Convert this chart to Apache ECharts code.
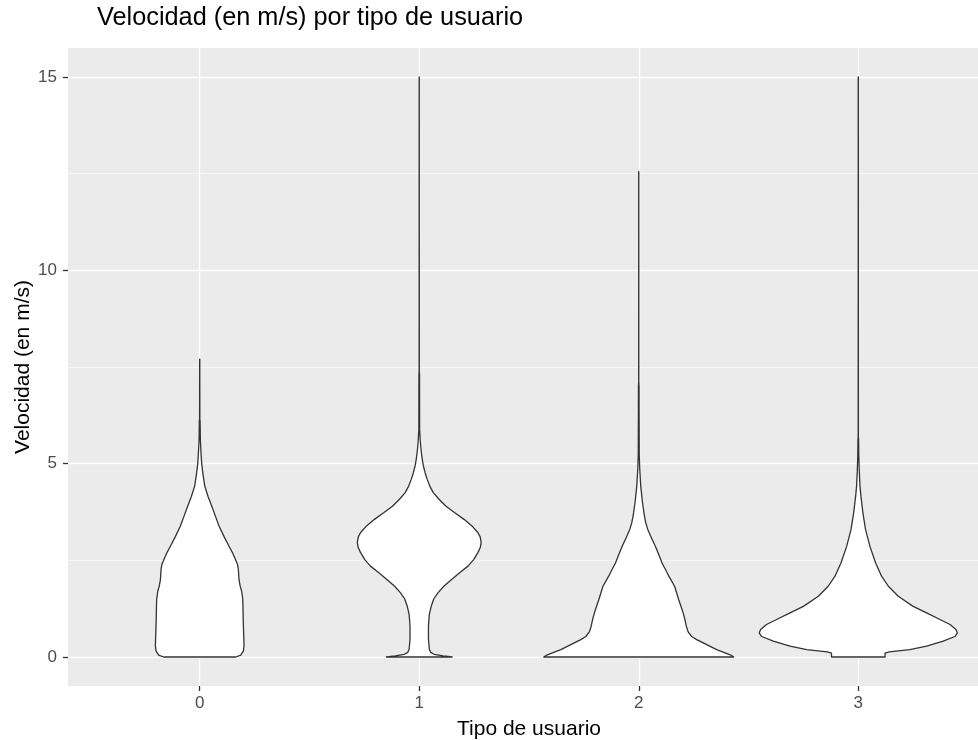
<!DOCTYPE html>
<html>
<head>
<meta charset="utf-8">
<script src="https://cdn.jsdelivr.net/npm/echarts@6/dist/echarts.min.js"></script>
<style>
  html, body { margin: 0; padding: 0; background: #fff; }
  #chart { width: 978px; height: 740px; }
</style>
</head>
<body>
<div id="chart"></div>
<script>
// Categories (tipo de usuario)
const categories = ['0', '1', '2', '3'];
const xTicks = [0, 1, 2, 3];
const yTicks = [0, 5, 10, 15];
const yMinorTicks = [2.5, 7.5, 12.5];

// Violin outlines: speed values (m/s) and half-widths (in category units)
const speed0 = [0, 0.05, 0.16, 0.3, 0.6, 1.0, 1.32, 1.5, 1.7, 1.84, 2.0, 2.27, 2.4, 2.55, 2.7, 2.87, 3.1, 3.39, 3.65, 3.9, 4.15, 4.42, 4.76, 5.0, 5.27, 5.6, 6.1, 6.15, 7.7];
const width0 = [0.164, 0.187, 0.199, 0.202, 0.200, 0.198, 0.197, 0.196, 0.191, 0.184, 0.179, 0.176, 0.172, 0.161, 0.149, 0.133, 0.112, 0.088, 0.071, 0.055, 0.038, 0.023, 0.014, 0.009, 0.006, 0.003, 0.0018, 0.0006, 0.0003];

const speed1 = [0, 0.03, 0.07, 0.12, 0.2, 0.46, 0.8, 1.1, 1.32, 1.5, 1.66, 1.83, 2.0, 2.18, 2.35, 2.52, 2.7, 2.83, 2.96, 3.1, 3.22, 3.39, 3.56, 3.73, 3.9, 4.08, 4.25, 4.42, 4.6, 4.76, 4.94, 5.1, 5.27, 5.43, 5.6, 5.77, 5.86, 6.7, 7.3, 7.4, 15];
const width1 = [0.150, 0.109, 0.068, 0.052, 0.046, 0.042, 0.042, 0.046, 0.055, 0.066, 0.085, 0.112, 0.146, 0.184, 0.222, 0.248, 0.267, 0.278, 0.282, 0.278, 0.267, 0.240, 0.204, 0.162, 0.122, 0.090, 0.064, 0.048, 0.036, 0.027, 0.019, 0.014, 0.010, 0.007, 0.0046, 0.003, 0.0018, 0.0016, 0.0014, 0.0004, 0.0002];

const speed2 = [0, 0.05, 0.1, 0.19, 0.28, 0.36, 0.45, 0.53, 0.65, 0.79, 1.0, 1.14, 1.3, 1.48, 1.65, 1.83, 2.09, 2.25, 2.43, 2.65, 2.86, 3.08, 3.3, 3.47, 3.64, 3.99, 4.42, 4.85, 5.2, 6.3, 7.0, 7.1, 12.55];
const width2 = [0.433, 0.419, 0.396, 0.355, 0.323, 0.296, 0.264, 0.241, 0.225, 0.217, 0.209, 0.202, 0.193, 0.182, 0.173, 0.163, 0.137, 0.123, 0.106, 0.091, 0.076, 0.058, 0.041, 0.032, 0.026, 0.017, 0.009, 0.0046, 0.0023, 0.0016, 0.0014, 0.0003, 0.0002];

const speed3 = [0, 0.1, 0.13, 0.19, 0.28, 0.41, 0.53, 0.62, 0.71, 0.84, 0.97, 1.14, 1.31, 1.57, 1.83, 2.09, 2.43, 2.86, 3.3, 3.73, 4.16, 4.42, 4.8, 5.2, 5.6, 5.7, 15];
const width3 = [0.122, 0.122, 0.141, 0.235, 0.311, 0.387, 0.440, 0.451, 0.445, 0.418, 0.372, 0.311, 0.250, 0.182, 0.137, 0.106, 0.079, 0.053, 0.033, 0.021, 0.012, 0.0077, 0.0046, 0.0023, 0.0016, 0.0004, 0.0002];

const violinSpeeds = [speed0, speed1, speed2, speed3];
const violinWidths = [width0, width1, width2, width3];

const FONT = '"Liberation Sans", Arial, sans-serif';
const TICK_STYLE = { color: '#333333', width: 1.3 };

const chart = echarts.init(document.getElementById('chart'), null, { renderer: 'canvas' });

const option = {
  animation: false,
  backgroundColor: '#ffffff',
  title: {
    text: 'Velocidad (en m/s) por tipo de usuario',
    left: 97,
    top: 6,
    padding: 0,
    textStyle: { fontFamily: FONT, fontSize: 25.3, fontWeight: 'normal', color: '#000000' }
  },
  grid: {
    left: 68,
    top: 48,
    width: 922,
    height: 638,
    show: true,
    backgroundColor: '#EBEBEB',
    borderWidth: 0,
    outerBoundsMode: 'none'
  },
  xAxis: [
    {
      type: 'value',
      position: 'bottom',
      min: -0.6,
      max: 3.6,
      name: 'Tipo de usuario',
      nameLocation: 'middle',
      nameGap: 33,
      nameMoveOverlap: false,
      nameTextStyle: { fontFamily: FONT, fontSize: 21, color: '#000000' },
      axisLine: { show: false, onZero: false },
      axisTick: { show: false, customValues: xTicks },
      axisLabel: {
        customValues: xTicks,
        margin: 9,
        fontFamily: FONT, fontSize: 17, color: '#4D4D4D',
        formatter: function (v) { return categories[Math.round(v)]; }
      },
      splitLine: { show: true, lineStyle: { color: '#ffffff', width: 1.3 } }
    },
    {
      // tick marks only
      type: 'value',
      position: 'bottom',
      min: -0.6,
      max: 3.6,
      axisLine: { show: false, onZero: false },
      axisTick: { show: true, length: 5, customValues: xTicks, lineStyle: TICK_STYLE },
      axisLabel: { show: false },
      splitLine: { show: false }
    }
  ],
  yAxis: [
    {
      type: 'value',
      position: 'left',
      min: -0.75,
      max: 15.75,
      name: 'Velocidad (en m/s)',
      nameLocation: 'middle',
      nameGap: 34,
      nameRotate: 90,
      nameMoveOverlap: false,
      nameTextStyle: { fontFamily: FONT, fontSize: 21, color: '#000000' },
      axisLine: { show: false, onZero: false },
      axisTick: { show: false, customValues: yTicks },
      axisLabel: { customValues: yTicks, margin: 11, fontFamily: FONT, fontSize: 17, color: '#4D4D4D' },
      splitLine: { show: true, lineStyle: { color: '#ffffff', width: 1.3 } }
    },
    {
      // minor grid lines
      type: 'value',
      position: 'right',
      min: -0.75,
      max: 15.75,
      axisLine: { show: false, onZero: false },
      axisTick: { show: false, customValues: yMinorTicks },
      axisLabel: { show: false },
      splitLine: { show: true, lineStyle: { color: '#ffffff', width: 0.6 } }
    },
    {
      // tick marks only
      type: 'value',
      position: 'left',
      min: -0.75,
      max: 15.75,
      axisLine: { show: false, onZero: false },
      axisTick: { show: true, length: 5, customValues: yTicks, lineStyle: TICK_STYLE },
      axisLabel: { show: false },
      splitLine: { show: false }
    }
  ],
  series: [{
    type: 'custom',
    xAxisIndex: 0,
    yAxisIndex: 0,
    silent: true,
    encode: { x: 0, y: 1 },
    data: categories.map(function (c, i) { return [i, 0]; }),
    renderItem: function (params, api) {
      const i = api.value(0);
      const ys = violinSpeeds[i];
      const ws = violinWidths[i];
      const pts = [];
      for (let k = 0; k < ys.length; k++) pts.push(api.coord([i - ws[k], ys[k]]));
      for (let k = ys.length - 1; k >= 0; k--) pts.push(api.coord([i + ws[k], ys[k]]));
      return {
        type: 'polygon',
        shape: { points: pts },
        style: { fill: '#ffffff', stroke: '#333333', lineWidth: 1.3, lineJoin: 'round' }
      };
    }
  }]
};

chart.setOption(option);
</script>
</body>
</html>
